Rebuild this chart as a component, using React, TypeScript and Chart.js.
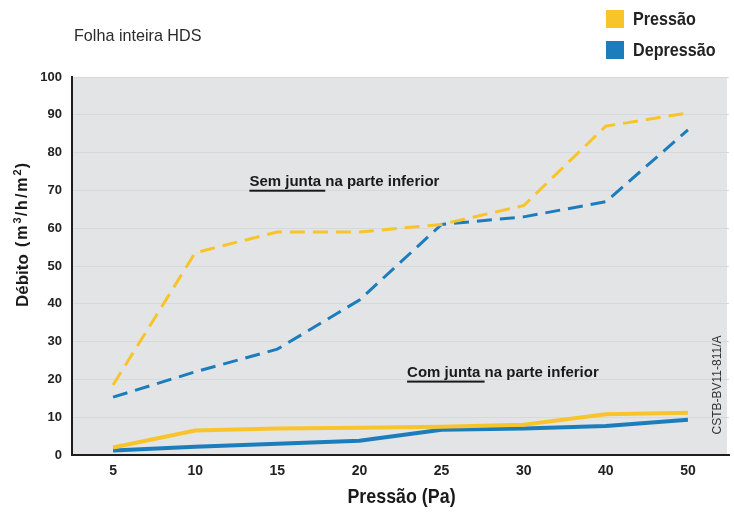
import React, { useEffect, useRef } from "react";
import { Chart, registerables } from "chart.js";

Chart.register(...registerables);

const categories = ["5", "10", "15", "20", "25", "30", "40", "50"];
const pressaoSemJunta = [18.5, 53.5, 59, 59, 61, 66, 87, 90.5];
const depressaoSemJunta = [15.3, 22, 28, 41, 61, 63, 67, 86];
const pressaoComJunta = [2, 6.5, 7, 7.2, 7.5, 8, 10.8, 11.2];
const depressaoComJunta = [1.2, 2.2, 3, 3.8, 6.7, 7, 7.7, 9.3];
const yTicks = [0, 10, 20, 30, 40, 50, 60, 70, 80, 90, 100];

const YELLOW = "#f7c42b";
const BLUE = "#1c7dbd";
const BG = "#e3e4e6";
const GRID = "#d6d8db";
const AXIS = "#1e1e1e";
const SANS = '"Liberation Sans", Arial, sans-serif';

// draw horizontally condensed text
function condensed(ctx: any, text: string, x: number, y: number, font: string, sx: number, align: string) {
  ctx.save();
  ctx.font = font;
  const w = ctx.measureText(text).width * sx;
  let left = x;
  if (align === "center") left = x - w / 2;
  else if (align === "right") left = x - w;
  ctx.translate(left, y);
  ctx.scale(sx, 1);
  ctx.textAlign = "left";
  ctx.fillText(text, 0, 0);
  ctx.restore();
  return w;
}

const decorPlugin = {
  id: "decor",
  beforeDraw(chart: any) {
    const { ctx, chartArea } = chart;
    ctx.save();
    ctx.fillStyle = BG;
    ctx.fillRect(chartArea.left, chartArea.top, chartArea.right - chartArea.left - 2, chartArea.bottom - chartArea.top);
    ctx.restore();
  },
  afterDraw(chart: any) {
    const { ctx, chartArea, scales } = chart;
    const xs = scales.x;
    const ys = scales.y;
    ctx.save();
    ctx.textBaseline = "middle";

    // Title
    ctx.fillStyle = "#2a2a2a";
    condensed(ctx, "Folha inteira HDS", 74, 36, `17px ${SANS}`, 0.95, "left");

    // Legend
    const legend = [
      { label: "Pressão", color: YELLOW, y: 19 },
      { label: "Depressão", color: BLUE, y: 50 },
    ];
    legend.forEach((l) => {
      ctx.fillStyle = l.color;
      ctx.fillRect(606, l.y - 9, 18, 18);
      ctx.fillStyle = "#222";
      condensed(ctx, l.label, 633, l.y + 1, `bold 19px ${SANS}`, 0.85, "left");
    });

    // X axis title
    ctx.fillStyle = "#1a1a1a";
    condensed(ctx, "Pressão (Pa)", (chartArea.left + chartArea.right) / 2 + 1, 497, `bold 21px ${SANS}`, 0.85, "center");

    // Y axis title (rotated)
    ctx.save();
    ctx.translate(23, 307);
    ctx.rotate(-Math.PI / 2);
    ctx.textAlign = "left";
    let cx = 0;
    const run = (t: string, font: string, dy = 0, sp = 0) => {
      ctx.font = font;
      for (const ch of t) {
        ctx.fillText(ch, cx, dy);
        cx += ctx.measureText(ch).width + sp;
      }
    };
    run("Débito", `bold 17px ${SANS}`);
    cx = 60;
    const uf = `bold 16px ${SANS}`;
    const sf = `bold 11px ${SANS}`;
    run("(m", uf, 0, 2);
    run("3", sf, -5, 1);
    run("/h/m", uf, 0, 2);
    run("2", sf, -5, 1);
    run(")", uf, 0, 0);
    ctx.restore();

    // Annotations
    const note = (x: number, y: number, underlined: string, rest: string) => {
      const px = xs.getPixelForValue(x);
      const py = ys.getPixelForValue(y);
      ctx.textAlign = "left";
      ctx.font = `bold 15px ${SANS}`;
      ctx.fillStyle = "#1a1a1a";
      ctx.fillText(underlined + rest, px, py);
      const w = ctx.measureText(underlined).width;
      ctx.fillRect(px, py + 8, w, 2);
    };
    note(1.66, 72.3, "Sem junta ", "na parte inferior");
    note(3.58, 21.8, "Com junta ", "na parte inferior");

    // Reference code
    ctx.save();
    ctx.translate(718, 385);
    ctx.rotate(-Math.PI / 2);
    ctx.textAlign = "center";
    ctx.font = `12px ${SANS}`;
    ctx.fillStyle = "#333";
    ctx.fillText("CSTB-BV11-811/A", 0, 0);
    ctx.restore();

    ctx.restore();
  },
};

export default function App() {
  const ref = useRef<HTMLCanvasElement | null>(null);
  useEffect(() => {
    document.body.style.margin = "0";
    if (!ref.current) return;
    const mk = (label: string, data: number[], color: string, dashed: boolean) => ({
      label,
      data,
      borderColor: color,
      backgroundColor: color,
      borderWidth: dashed ? 3 : 4,
      borderDash: dashed ? [15, 8] : [],
      pointRadius: 0,
      tension: 0,
      fill: false,
    });
    const chart = new Chart(ref.current, {
      type: "line",
      data: {
        labels: categories,
        datasets: [
          mk("Pressão sem junta", pressaoSemJunta, YELLOW, true),
          mk("Depressão sem junta", depressaoSemJunta, BLUE, true),
          mk("Pressão com junta", pressaoComJunta, YELLOW, false),
          mk("Depressão com junta", depressaoComJunta, BLUE, false),
        ],
      },
      options: {
        animation: false,
        responsive: false,
        layout: { padding: { top: 77, right: 5, left: 0, bottom: 0 } },
        plugins: {
          legend: { display: false },
          title: { display: false },
          tooltip: { enabled: false },
        },
        scales: {
          x: {
            type: "category",
            offset: true,
            grid: { display: false, drawTicks: false },
            border: { color: AXIS, width: 2 },
            ticks: {
              color: "#222",
              font: { family: SANS, size: 14, weight: "bold" },
              padding: 8,
              maxRotation: 0,
            },
            afterFit: (s: any) => {
              s.height = 58;
            },
          },
          y: {
            min: 0,
            max: 100,
            afterBuildTicks: (s: any) => {
              s.ticks = yTicks.map((v) => ({ value: v }));
            },
            grid: { color: GRID, lineWidth: 1, drawTicks: false },
            border: { color: AXIS, width: 2 },
            ticks: {
              color: "#222",
              font: { family: SANS, size: 13, weight: "bold" },
              padding: 10,
            },
            afterFit: (s: any) => {
              s.width = 72;
            },
          },
        },
      },
      plugins: [decorPlugin],
    });
    return () => chart.destroy();
  }, []);
  return <canvas ref={ref} width={734} height={513} />;
}
